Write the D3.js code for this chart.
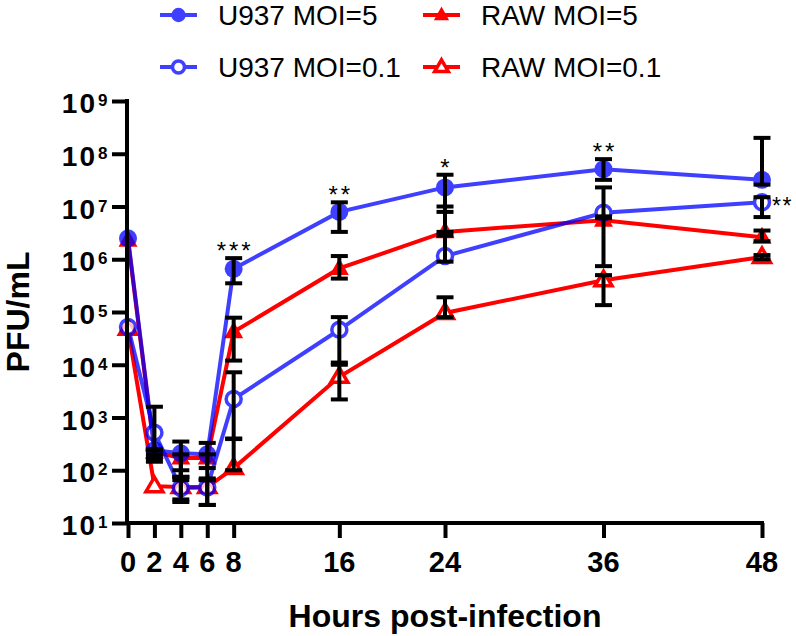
<!DOCTYPE html>
<html><head><meta charset="utf-8">
<script src="https://cdn.jsdelivr.net/npm/d3@7"></script>
<style>body{margin:0;background:#fff}svg{display:block;font-family:"Liberation Sans",Arial,sans-serif}</style>
</head><body>
<svg id="c" width="796" height="636"></svg>
<script>
// ---- data ----
const hours = [0, 2, 4, 6, 8, 16, 24, 36, 48];
const xTicks = [0, 2, 4, 6, 8, 16, 24, 36, 48];
const yTicks = [1e1, 1e2, 1e3, 1e4, 1e5, 1e6, 1e7, 1e8, 1e9];
const yExponents = ["1","2","3","4","5","6","7","8","9"];

const u937_5    = [2.5e6, 240, 210, 200, 6.6e5, 7.9e6, 2.3e7, 5.1e7, 3.2e7];
const u937_5_lo = [null, 145, 75, 110, 3.5e5, 3.3e6, 7.9e6, 3.2e7, 2.6e7];
const u937_5_hi = [null, 250, 350, 330, 1.05e6, 1.2e7, 4.0e7, 7.9e7, 2.0e8];

const u937_01    = [5.2e4, 515, 46, 47, 2240, 4.6e4, 1.15e6, 7.6e6, 1.2e7];
const u937_01_lo = [null, 170, 25, 22, 400, 1.1e4, 9.0e5, 6.5e6, 6.3e6];
const u937_01_hi = [null, 1600, 100, 65, 7200, 8.0e4, 3.3e6, 2.3e7, 1.5e7];

const raw_5    = [2.3e6, 220, 170, 170, 4.2e4, 6.7e5, 3.3e6, 5.5e6, 2.6e6];
const raw_5_lo = [null, 200, 65, 65, 1.2e4, 4.3e5, 2.8e6, 7.4e5, 2.2e6];
const raw_5_hi = [null, 240, 200, 200, 7.8e4, 1.15e6, 1.0e7, 6.0e6, 3.5e6];

const raw_01    = [4.8e4, 50, 48, 48, 110, 5.9e3, 9.6e4, 4.0e5, 1.1e6];
const raw_01_lo = [null, null, 28, 22, 100, 2.2e3, 8.0e4, 1.35e5, 1.0e6];
const raw_01_hi = [null, null, 75, 70, 390, 1.0e4, 1.9e5, 5.0e5, 1.2e6];

const sigHours = [8, 16, 24, 36];
const sigText  = ["***", "**", "*", "**"];
const sigSideText = "**"; // at 48 h beside U937 MOI=0.1

const seriesNames = ["U937 MOI=5", "U937 MOI=0.1", "RAW MOI=5", "RAW MOI=0.1"];

// ---- setup ----
const svg = d3.select("#c");
const x = d3.scaleLinear().domain([0, 48]).range([128, 762]);
const y = d3.scaleLog().domain([1e1, 1e9]).range([523, 101]);

const BLUE = "#0000ff", RED = "#ff0000";
const series = [
  {name: seriesNames[2], v: raw_5,   lo: raw_5_lo,   hi: raw_5_hi,   color: RED,  shape: "tri",  fill: true,  op: 1},
  {name: seriesNames[3], v: raw_01,  lo: raw_01_lo,  hi: raw_01_hi,  color: RED,  shape: "tri",  fill: false, op: 1},
  {name: seriesNames[1], v: u937_01, lo: u937_01_lo, hi: u937_01_hi, color: BLUE, shape: "circ", fill: false, op: 0.75},
  {name: seriesNames[0], v: u937_5,  lo: u937_5_lo,  hi: u937_5_hi,  color: BLUE, shape: "circ", fill: true,  op: 0.75},
];

function drawMarker(g, s, cx, cy, scale) {
  scale = scale || 1;
  if (s.shape === "circ") {
    if (s.fill) g.append("circle").attr("cx", cx).attr("cy", cy).attr("r", 9 * scale).attr("fill", s.color);
    else g.append("circle").attr("cx", cx).attr("cy", cy).attr("r", 7.5 * scale).attr("fill", "#fff").attr("stroke", s.color).attr("stroke-width", 3.5);
  } else {
    const h = s.fill ? 17 * scale : 14.5 * scale, w = s.fill ? 19 * scale : 17 * scale;
    const pts = [[cx, cy - h * 0.62], [cx + w / 2, cy + h * 0.38], [cx - w / 2, cy + h * 0.38]];
    const p = g.append("polygon").attr("points", pts.map(d => d.join(",")).join(" "));
    if (s.fill) p.attr("fill", s.color);
    else p.attr("fill", "#fff").attr("stroke", s.color).attr("stroke-width", 3.5).attr("stroke-linejoin", "miter");
  }
}

// ---- series lines + markers ----
const line = d3.line().x((d, i) => x(hours[i])).y(d => y(d));
series.forEach(s => {
  const g = svg.append("g").attr("opacity", s.op);
  g.append("path").attr("d", line(s.v)).attr("fill", "none").attr("stroke", s.color).attr("stroke-width", 4);
  s.v.forEach((v, i) => drawMarker(g, s, x(hours[i]), y(v)));
});

// ---- error bars (black, on top) ----
const eg = svg.append("g").attr("stroke", "#000").attr("stroke-width", 4);
series.forEach(s => {
  s.v.forEach((v, i) => {
    const lo = s.lo[i], hi = s.hi[i];
    if (lo == null || hi == null) return;
    const cx = x(hours[i]);
    eg.append("line").attr("x1", cx).attr("x2", cx).attr("y1", y(lo)).attr("y2", y(hi));
    [lo, hi].forEach(b => eg.append("line").attr("x1", cx - 8.5).attr("x2", cx + 8.5).attr("y1", y(b)).attr("y2", y(b)));
  });
});

// ---- axes ----
const yAxis = d3.axisLeft(y).tickValues(yTicks).tickSize(15).tickFormat(() => "");
const ya = svg.append("g").attr("transform", "translate(127,0)").call(yAxis);
const xAxis = d3.axisBottom(x).tickValues(xTicks).tickSize(15).tickFormat(() => "");
const xa = svg.append("g").attr("transform", "translate(0,523)").call(xAxis);
[ya, xa].forEach(a => {
  a.select(".domain").attr("stroke", "#000").attr("stroke-width", 4).attr("stroke-linecap", "square");
  a.selectAll(".tick line").attr("stroke", "#000").attr("stroke-width", 4);
});
ya.select(".domain").attr("d", `M0,${y(1e9)}V${y(1e1)}`);
xa.select(".domain").attr("d", `M${x(0)-1},0H${x(48)}`);

// y tick labels with superscripts
yTicks.forEach((t, i) => {
  svg.append("text").attr("x", 97).attr("y", y(t) + 12).attr("text-anchor", "end")
    .attr("font-size", 28).attr("font-weight", "bold").attr("letter-spacing", 2).text("10");
  svg.append("text").attr("x", 98).attr("y", y(t) + 5).attr("font-size", 17).attr("font-weight", "bold").text(yExponents[i]);
});
// x tick labels
xTicks.forEach(t => {
  svg.append("text").attr("x", x(t)).attr("y", 572).attr("text-anchor", "middle")
    .attr("font-size", 29).attr("font-weight", "bold").text(t);
});

// axis titles
svg.append("text").attr("x", 445).attr("y", 627).attr("text-anchor", "middle")
  .attr("font-size", 32).attr("font-weight", "bold").text("Hours post-infection");
svg.append("text").attr("transform", "translate(29,312) rotate(-90)").attr("text-anchor", "middle")
  .attr("font-size", 32).attr("font-weight", "bold").text("PFU/mL");

// significance marks
sigHours.forEach((h, i) => {
  const idx = hours.indexOf(h);
  svg.append("text").attr("x", x(h) + 1.5).attr("y", y(u937_5_hi[idx]) + 1).attr("text-anchor", "middle")
    .attr("font-size", 24).attr("letter-spacing", 3).text(sigText[i]);
});
svg.append("text").attr("x", x(48) + 10).attr("y", y(u937_01[8]) + 12).attr("font-size", 23)
  .attr("letter-spacing", 1.5).text(sigSideText);

// ---- legend ----
const legend = [
  {s: series[3], lx: 160, ly: 15},
  {s: series[2], lx: 160, ly: 67},
  {s: series[0], lx: 423, ly: 15},
  {s: series[1], lx: 423, ly: 67},
];
legend.forEach(L => {
  const g = svg.append("g").attr("opacity", L.s.op);
  g.append("line").attr("x1", L.lx).attr("x2", L.lx + 37).attr("y1", L.ly).attr("y2", L.ly)
    .attr("stroke", L.s.color).attr("stroke-width", 4);
  drawMarker(g, L.s, L.lx + 18.5, L.ly, 0.8);
  svg.append("text").attr("x", L.lx + 58).attr("y", L.ly + 10).attr("font-size", 28).text(L.s.name);
});
</script>
</body></html>
